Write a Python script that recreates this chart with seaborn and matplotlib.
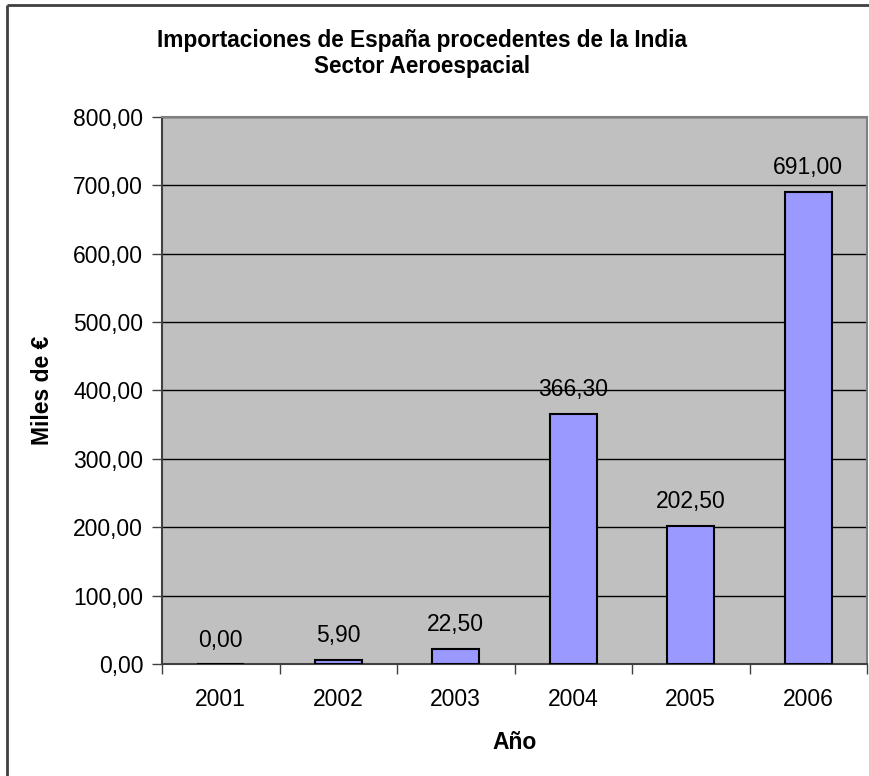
import pandas as pd
import numpy as np
import matplotlib
matplotlib.use("Agg")
import matplotlib.pyplot as plt
import matplotlib.ticker as mticker
from matplotlib.lines import Line2D
import seaborn as sns

# DATA
years = ["2001", "2002", "2003", "2004", "2005", "2006"]
values = [0.00, 5.90, 22.50, 366.30, 202.50, 691.00]
y_ticks = [0, 100, 200, 300, 400, 500, 600, 700, 800]

df = pd.DataFrame({"Año": years, "Miles": values})

sns.set_style("white")
plt.rcParams["font.family"] = ["Liberation Sans", "DejaVu Sans"]
plt.rcParams["text.color"] = "black"
plt.rcParams["axes.labelcolor"] = "black"
plt.rcParams["xtick.color"] = "black"
plt.rcParams["ytick.color"] = "black"


def coma(v, pos=None):
    return f"{v:.2f}".replace(".", ",")


fig = plt.figure(figsize=(8.69, 7.76), dpi=100)
ax = fig.add_axes([162 / 869, 1 - 664 / 776, (867 - 162) / 869, (664 - 117) / 776])

sns.barplot(data=df, x="Año", y="Miles", color="#9999FF", saturation=1,
            width=0.4, edgecolor="black", linewidth=1.5, ax=ax, zorder=3)

ax.set_facecolor("#C0C0C0")
ax.set_ylim(0, 800)
ax.set_xlim(-0.5, len(years) - 0.5)
ax.set_yticks(y_ticks)
ax.yaxis.set_major_formatter(mticker.FuncFormatter(coma))
ax.yaxis.grid(True, color="black", linewidth=1)
ax.set_axisbelow(True)

# tick marks between categories, labels centred
ax.set_xticks(np.arange(-0.5, len(years)), minor=True)
ax.tick_params(axis="x", which="major", length=0, labelsize=16.5, pad=17.5,
               labelcolor="black")
ax.tick_params(axis="x", which="minor", length=7, width=1, color="#404040",
               direction="out", bottom=True)
ax.tick_params(axis="y", length=7, width=1, color="#404040",
               direction="out", left=True, labelsize=16.5, pad=6.5,
               labelcolor="black")

for side in ["top", "right"]:
    ax.spines[side].set_color("#808080")
    ax.spines[side].set_linewidth(1.5)
for side in ["left", "bottom"]:
    ax.spines[side].set_color("#404040")
    ax.spines[side].set_linewidth(1.5)

ax.bar_label(ax.containers[0], labels=[coma(v) for v in values],
             padding=9, fontsize=16.5, color="black")

ax.set_xlabel("Año", fontsize=16.5, fontweight="bold", labelpad=14, color="black")
ax.set_ylabel("Miles de €", fontsize=16.5, fontweight="bold", labelpad=14,
              color="black")

fig.text(422 / 869, 1 - 40 / 776, "Importaciones de España procedentes de la India",
         ha="center", va="center", fontsize=16.25, fontweight="bold", color="black")
fig.text(422 / 869, 1 - 67 / 776, "Sector Aeroespacial",
         ha="center", va="center", fontsize=16.25, fontweight="bold", color="black")

# outer chart frame: only its top and left edges fall inside the picture
fig.add_artist(Line2D([7 / 869, 1.2], [1 - 5 / 776, 1 - 5 / 776],
                      transform=fig.transFigure, color="#404040", linewidth=2,
                      solid_capstyle="butt"))
fig.add_artist(Line2D([7 / 869, 7 / 869], [-0.2, 1 - 5 / 776],
                      transform=fig.transFigure, color="#404040", linewidth=2,
                      solid_capstyle="butt"))

fig.savefig("out.png", dpi=100)
